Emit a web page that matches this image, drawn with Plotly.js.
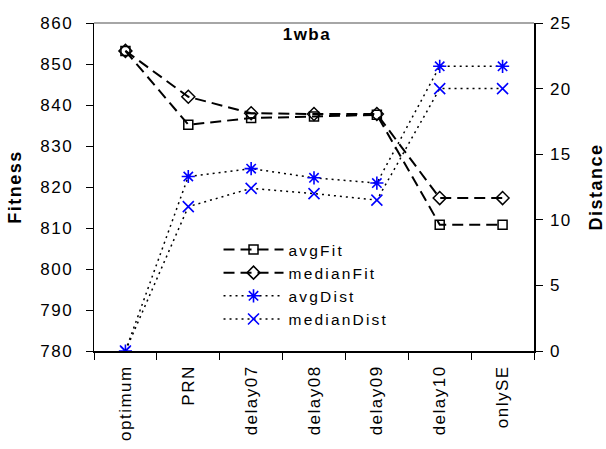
<!DOCTYPE html>
<html>
<head>
<meta charset="utf-8">
<script src="https://cdn.plot.ly/plotly-3.0.1.min.js"></script>
<style>
html,body{margin:0;padding:0;background:#fff;}
#chart{width:606px;height:449px;}
svg text{letter-spacing:1.5px;}
svg text.legendtext{letter-spacing:2.2px;}
</style>
</head>
<body>
<div id="chart"></div>
<script>
var categories = ["optimum", "PRN", "delay07", "delay08", "delay09", "delay10", "onlySE"];
var avgFit = [853.2, 835.2, 836.8, 837.2, 837.6, 810.8, 810.8];
var medianFit = [853.2, 842.0, 838.0, 837.8, 837.8, 817.3, 817.3];
var avgDist = [0, 13.3, 13.9, 13.2, 12.8, 21.7, 21.7];
var medianDist = [0, 11.0, 12.4, 12.0, 11.5, 20.0, 20.0];
var yLeftTicks = [780, 790, 800, 810, 820, 830, 840, 850, 860];
var yRightTicks = [0, 5, 10, 15, 20, 25];

var FONT = "Liberation Sans, Arial, sans-serif";
var BLUE = "#0000ff";

var traces = [
  {x: categories, y: avgFit, name: "avgFit", type: "scatter", mode: "lines+markers",
   line: {color: "#000", width: 2, dash: "11px,6px"},
   marker: {symbol: "square-open", size: 9, color: "#000", line: {color: "#000", width: 1.5}}},
  {x: categories, y: medianFit, name: "medianFit", type: "scatter", mode: "lines+markers",
   line: {color: "#000", width: 2, dash: "11px,6px"},
   marker: {symbol: "diamond-open", size: 10, color: "#000", line: {color: "#000", width: 1.5}}},
  {x: categories, y: avgDist, name: "avgDist", type: "scatter", mode: "lines+markers", yaxis: "y2",
   line: {color: "#000", width: 1.5, dash: "2px,4px"},
   marker: {symbol: "asterisk-open", size: 11, color: BLUE, line: {color: BLUE, width: 1.6}}},
  {x: categories, y: medianDist, name: "medianDist", type: "scatter", mode: "lines+markers", yaxis: "y2",
   line: {color: "#000", width: 1.5, dash: "2px,4px"},
   marker: {symbol: "x-thin-open", size: 11, color: BLUE, line: {color: BLUE, width: 1.6}}}
];

var tickFont = {family: FONT, size: 17, color: "#000"};
var layout = {
  width: 606, height: 449,
  margin: {l: 94, r: 72, t: 23, b: 98, pad: 0},
  paper_bgcolor: "#fff", plot_bgcolor: "#fff",
  font: {family: FONT, size: 17, color: "#000"},
  showlegend: true,
  title: {text: "<b>1wba</b>", font: {family: FONT, size: 17, color: "#000"},
          x: 0.484, xref: "paper", y: 0.925, yref: "container", xanchor: "center", yanchor: "middle"},
  xaxis: {type: "category", range: [-0.5, 6.5], showgrid: false, zeroline: false,
          showline: true, linecolor: "#000", linewidth: 1.5,
          ticks: "outside", ticklen: 7, tickcolor: "#000", tickwidth: 1, tickson: "boundaries",
          tickangle: -90, tickfont: tickFont, ticklabelstandoff: 6, fixedrange: true},
  xaxis2: {type: "category", range: [-0.5, 6.5], overlaying: "x", anchor: "y", side: "bottom",
           matches: "x", showgrid: false, zeroline: false, showline: false,
           ticks: "inside", ticklen: 6, tickcolor: "#000", tickwidth: 1, tickson: "boundaries",
           showticklabels: false},
  yaxis: {range: [780, 860], tickvals: yLeftTicks, showgrid: false, zeroline: false,
          showline: true, linecolor: "#000", linewidth: 1.5,
          ticks: "outside", ticklen: 7, tickcolor: "#000", ticklabelstandoff: 9,
          tickfont: tickFont,
          title: {text: "<b>Fitness</b>", font: {family: FONT, size: 18, color: "#000"}, standoff: 14}},
  yaxis3: {range: [780, 860], tickvals: yLeftTicks, overlaying: "y", side: "left", anchor: "x",
           showgrid: false, zeroline: false, showline: false,
           ticks: "inside", ticklen: 6, tickcolor: "#000", showticklabels: false},
  yaxis2: {range: [0, 25], tickvals: yRightTicks, overlaying: "y", side: "right", anchor: "x",
           showgrid: false, zeroline: false, showline: true, linecolor: "#000", linewidth: 1.5,
           ticks: "outside", ticklen: 7, tickcolor: "#000", ticklabelstandoff: 4,
           tickfont: tickFont,
           title: {text: "<b>Distance</b>", font: {family: FONT, size: 18, color: "#000"}, standoff: 20}},
  yaxis4: {range: [0, 25], tickvals: yRightTicks, overlaying: "y", side: "right", anchor: "x",
           showgrid: false, zeroline: false, showline: false,
           ticks: "inside", ticklen: 6, tickcolor: "#000", showticklabels: false},
  legend: {x: 0.283, y: 0.36, xanchor: "left", yanchor: "top", bgcolor: "rgba(0,0,0,0)",
           borderwidth: 0, font: {family: FONT, size: 15.5, color: "#000"}, tracegroupgap: 0,
           itemwidth: 60},
  shapes: [{type: "line", xref: "paper", yref: "paper", x0: 0, x1: 1, y0: 1, y1: 1,
            line: {color: "#888", width: 1.5}}]
};

Plotly.newPlot("chart", traces, layout, {displayModeBar: false, staticPlot: true});
</script>
</body>
</html>
